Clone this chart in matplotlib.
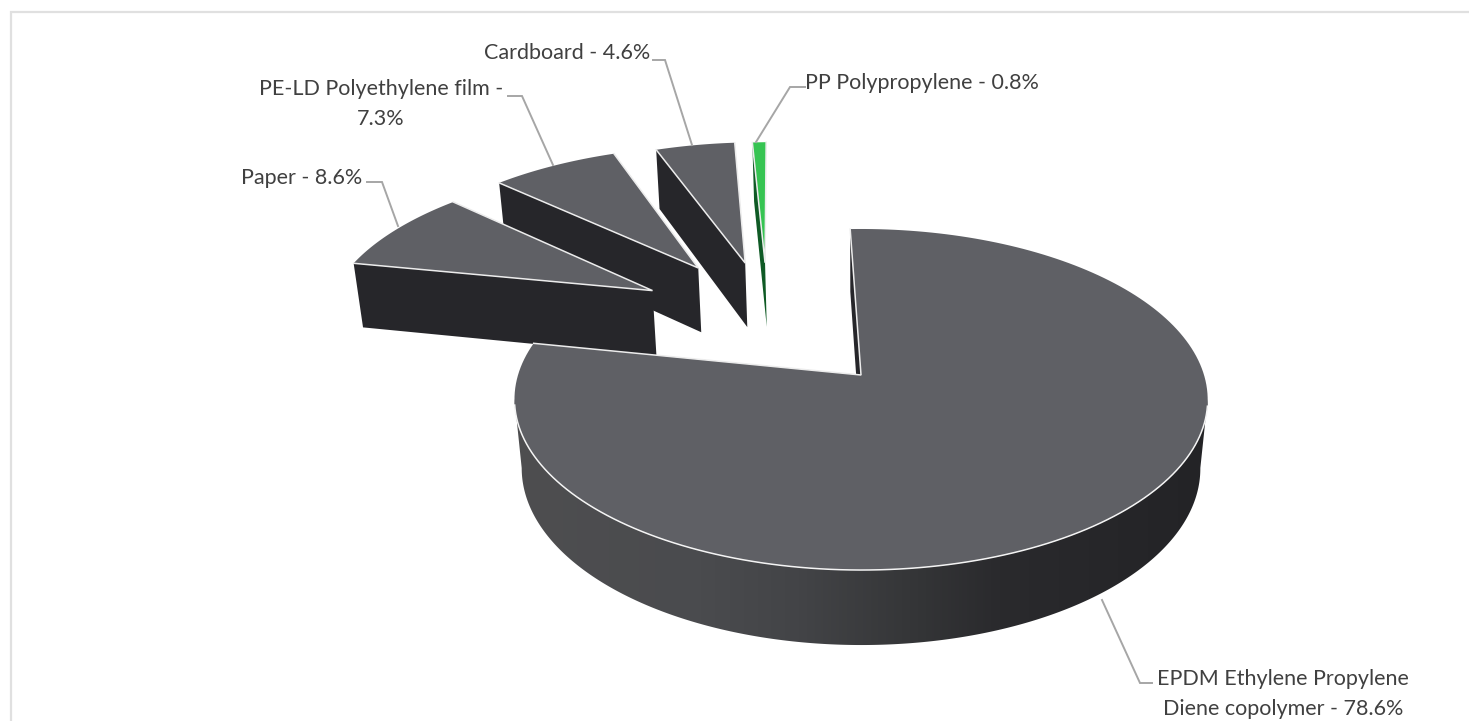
"""Exploded 3D pie of waste composition, drawn by hand since matplotlib has no 3D pie."""
import numpy as np
import matplotlib
matplotlib.use('Agg')
import matplotlib.pyplot as plt
from matplotlib.colors import LinearSegmentedColormap
from matplotlib.patches import Polygon

# Data
labels = ['EPDM Ethylene Propylene\nDiene copolymer - 78.6%', 'Paper - 8.6%',
          'PE-LD Polyethylene film -\n7.3%', 'Cardboard - 4.6%', 'PP Polypropylene - 0.8%']
shares = [78.6, 8.6, 7.3, 4.6, 0.8]

# Explosion of each slice, in units of the pie radius on the pie plane
explode_u = [0.0088, -0.646, -0.513, -0.364, -0.30]
explode_v = [0.0, -0.545, -0.706, -0.742, -0.744]
top_colors = ['#5f6065', '#5f6065', '#5f6065', '#5f6065', '#36c452']
wall_colors = ['#26262a', '#26262a', '#26262a', '#26262a', '#0f5a25']

# Projection of the pie plane to pixels
CX, CY = 858, 375
RX, RY = 343, 167
PERSP = 0.1437
DEPTH, DEPTH_PERSP = 69.9, 0.021
START = -2.0  # degrees clockwise from north

# Labels and leaders, in pixels
label_pos = [(1283, 694, 'center'), (362, 178, 'right'), (381, 104, 'center'),
             (650, 53, 'right'), (805, 83, 'left')]
leaders = [[(1102, 600), (1140, 683), (1152, 683)],
           [(398, 226), (382, 182), (367, 182)],
           [(553, 165), (522, 96), (508, 96)],
           [(692, 145), (665, 60), (653, 60)],
           [(756, 142), (790, 87), (805, 87)]]

# Side shading of the big slice, from its left to its right end
wall_cmap = LinearSegmentedColormap.from_list('wall', [
    (0.0, '#4e4e50'), (0.27, '#4a4b4e'), (0.41, '#434447'),
    (0.56, '#363739'), (0.70, '#2a2a2d'), (1.0, '#232326')])


def project(u, v, bottom=False):
    if bottom:
        f = 1 / (1 - PERSP * v + DEPTH_PERSP)
        return CX + RX * u * f, CY + (RY * v + DEPTH) * f
    f = 1 / (1 - PERSP * v)
    return CX + RX * u * f, CY + RY * v * f


def rim(a0, a1, du, dv, n=200):
    t = np.radians(np.linspace(a0, a1, n))
    return du + np.sin(t), dv - np.cos(t)


fig = plt.figure(figsize=(14.69, 7.21), dpi=100)
ax = fig.add_axes([0, 0, 1, 1])
ax.set_xlim(0, 1469)
ax.set_ylim(721, 0)
ax.axis('off')

# chart frame, cut off on the right and at the bottom
ax.plot([11.5, 11.5, 1469], [721, 11.5, 11.5], color='#e0e0e0', lw=1.6, solid_joinstyle='miter')

spans = np.array(shares) / sum(shares) * 360
starts = START + np.concatenate([[0], np.cumsum(spans)[:-1]])

# back to front: the small slices first, the big one last
for i in [4, 3, 2, 1, 0]:
    a0, a1 = starts[i], starts[i] + spans[i]
    du, dv = explode_u[i], explode_v[i]
    ru, rv = rim(a0, a1, du, dv)
    x_top, y_top = project(ru, rv)
    ax_, ay_ = project(du, dv)
    bx_, by_ = project(du, dv, bottom=True)

    if i == 0:
        # outer wall of the big slice, between the widest points of the rims
        wu, wv = rim(98, 262, du, dv, 400)
        x0, y0 = project(wu, wv)
        x1, y1 = project(wu, wv, bottom=True)
        wall = Polygon(np.c_[np.r_[x0, x1[::-1]], np.r_[y0, y1[::-1]]], fc='none', ec='none',
                       transform=ax.transData)
        ax.add_patch(wall)
        left, right = min(x0.min(), x1.min()), max(x0.max(), x1.max())
        im = ax.imshow(np.linspace(0, 1, 512)[None, ::-1], cmap=wall_cmap, aspect='auto', zorder=2,
                       extent=[right, left, y1.max() + 2, y0.min() - 2])
        im.set_clip_path(wall)
        ax.set_xlim(0, 1469)
        ax.set_ylim(721, 0)

    # cut wall on the start edge of the slice
    ex, ey = project(ru[0], rv[0], bottom=True)
    ax.fill([x_top[0], ax_, bx_, ex], [y_top[0], ay_, by_, ey], color=wall_colors[i], lw=0, zorder=2)

    ax.fill(np.r_[ax_, x_top], np.r_[ay_, y_top], color=top_colors[i], lw=0, zorder=2)

    # white highlight on the edges
    ax.plot([x_top[0], ax_, x_top[-1]], [y_top[0], ay_, y_top[-1]], color='#ececec', lw=1.1, zorder=2,
            solid_joinstyle='miter')
    if i == 0:
        front = rv > 0.17
        ax.plot(x_top[front], y_top[front], color='#f4f4f4', lw=1.1, zorder=2)

for pts in leaders:
    ax.plot(*zip(*pts), color='#a6a6a6', lw=1.4, zorder=3, solid_joinstyle='miter')

for txt, (x, y, ha) in zip(labels, label_pos):
    ax.text(x, y, txt, ha=ha, va='center', family='Lato', fontsize=15.5, color='#404040',
            linespacing=1.65, multialignment='center', zorder=4)

fig.savefig('out.png', dpi=100)
